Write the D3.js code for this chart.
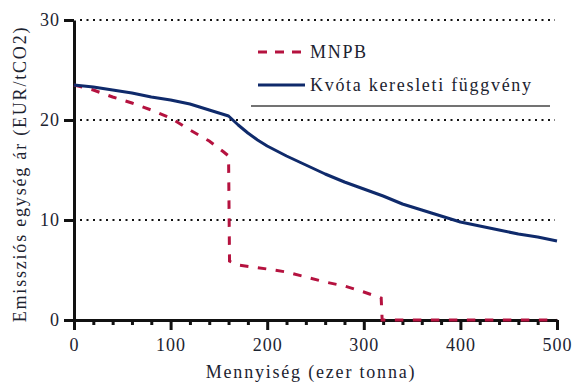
<!DOCTYPE html>
<html>
<head>
<meta charset="utf-8">
<script src="https://cdn.jsdelivr.net/npm/d3@7"></script>
<style>
  body { margin: 0; background: #fff; }
  svg text { font-family: "Liberation Serif", "DejaVu Serif", serif; fill: #1c2330; }
</style>
</head>
<body>
<svg id="bg" width="572" height="383"></svg>
<script>
// kvóta keresleti függvény
var demandX = [0,20,40,60,80,100,120,140,160,170,180,190,200,220,240,260,280,300,320,340,360,380,400,420,440,460,480,500];
var demandY = [23.5,23.3,23.0,22.7,22.3,22.0,21.6,21.0,20.4,19.5,18.7,18.0,17.4,16.4,15.5,14.6,13.8,13.1,12.4,11.6,11.0,10.4,9.8,9.4,9.0,8.6,8.3,7.9];

// MNPB
var mnpbX = [0,20,40,60,80,100,120,140,155,160,161,170,200,220,240,260,280,300,318,319,500];
var mnpbY = [23.5,23.0,22.3,21.7,21.0,20.2,19.0,17.9,16.8,16.4,5.9,5.5,5.1,4.8,4.3,3.8,3.4,2.8,2.2,0,0];

var xTicks = [0,100,200,300,400,500];
var yTicks = [0,10,20,30];
var legendLabels = ['MNPB', 'Kvóta keresleti függvény'];

var xScale = d3.scaleLinear().domain([0,500]).range([74,557]);
var yScale = d3.scaleLinear().domain([0,30]).range([320,20]);

var svg = d3.select('#bg');

// pontozott rácsvonalak
svg.selectAll('.grid')
  .data(yTicks.slice(1))
  .join('line')
  .attr('class', 'grid')
  .attr('x1', xScale(0) + 6)
  .attr('x2', xScale(500) - 2)
  .attr('y1', d => yScale(d))
  .attr('y2', d => yScale(d))
  .attr('stroke', '#111')
  .attr('stroke-width', 2)
  .attr('stroke-dasharray', '2,4.5');

// kis osztások
var minor = d3.range(20, 500, 20).filter(d => d % 100 != 0);
var gMinor = svg.append('g')
  .attr('transform', 'translate(0,' + yScale(0) + ')')
  .call(d3.axisBottom(xScale).tickValues(minor).tickSize(5).tickFormat(''));
gMinor.select('.domain').remove();
gMinor.selectAll('line').attr('stroke', '#111').attr('stroke-width', 3);

var gx = svg.append('g')
  .attr('transform', 'translate(0,' + yScale(0) + ')')
  .call(d3.axisBottom(xScale).tickValues(xTicks).tickSize(10).tickSizeOuter(0).tickPadding(8));
gx.select('.domain').attr('stroke', '#111').attr('stroke-width', 3);
gx.selectAll('line').attr('stroke', '#111').attr('stroke-width', 3);
gx.selectAll('text').attr('font-size', 18).attr('letter-spacing', 1)
  .style('font-family', '"Liberation Serif", serif').attr('fill', '#1c2330');

var gy = svg.append('g')
  .attr('transform', 'translate(' + xScale(0) + ',0)')
  .call(d3.axisLeft(yScale).tickValues(yTicks).tickSize(10).tickSizeOuter(0).tickPadding(4));
gy.select('.domain').attr('stroke', '#111').attr('stroke-width', 3);
gy.selectAll('line').attr('stroke', '#111').attr('stroke-width', 3);
gy.selectAll('text').attr('font-size', 18).attr('letter-spacing', 1)
  .style('font-family', '"Liberation Serif", serif').attr('fill', '#1c2330');

// görbék
var line = d3.line()
  .x(d => xScale(d[0]))
  .y(d => yScale(d[1]));

svg.append('path')
  .datum(mnpbX.map((x, i) => [x, mnpbY[i]]))
  .attr('fill', 'none')
  .attr('stroke', '#b5123f')
  .attr('stroke-width', 3)
  .attr('stroke-dasharray', '8.5,9.5')
  .attr('d', line);

svg.append('path')
  .datum(demandX.map((x, i) => [x, demandY[i]]))
  .attr('fill', 'none')
  .attr('stroke', '#0f2a6b')
  .attr('stroke-width', 3)
  .attr('stroke-linejoin', 'round')
  .attr('d', line);

// jelmagyarázat
var legend = svg.append('g');
var legendY = [52, 85];
legend.selectAll('.sample')
  .data(legendLabels)
  .join('line')
  .attr('class', 'sample')
  .attr('x1', 258)
  .attr('x2', 305)
  .attr('y1', (d, i) => legendY[i])
  .attr('y2', (d, i) => legendY[i])
  .attr('stroke', (d, i) => i == 0 ? '#b5123f' : '#0f2a6b')
  .attr('stroke-width', 3)
  .attr('stroke-dasharray', (d, i) => i == 0 ? '9,8' : null);

legend.selectAll('.label')
  .data(legendLabels)
  .join('text')
  .attr('class', 'label')
  .attr('x', 310)
  .attr('y', (d, i) => legendY[i])
  .attr('dy', '0.35em')
  .attr('font-size', 18)
  .attr('letter-spacing', 1.7)
  .text(d => d);

legend.append('line')
  .attr('x1', 251)
  .attr('x2', 550)
  .attr('y1', 106)
  .attr('y2', 106)
  .attr('stroke', '#444')
  .attr('stroke-width', 1.5);

// tengelyfeliratok
svg.append('text')
  .attr('x', 311)
  .attr('y', 372)
  .attr('dy', '0.35em')
  .attr('text-anchor', 'middle')
  .attr('font-size', 18)
  .attr('letter-spacing', 1.8)
  .text('Mennyiség (ezer tonna)');

svg.append('text')
  .attr('transform', 'translate(20,174) rotate(-90)')
  .attr('dy', '0.35em')
  .attr('text-anchor', 'middle')
  .attr('font-size', 18)
  .attr('letter-spacing', 1.8)
  .text('Emissziós egység ár (EUR/tCO2)');
</script>
</body>
</html>
